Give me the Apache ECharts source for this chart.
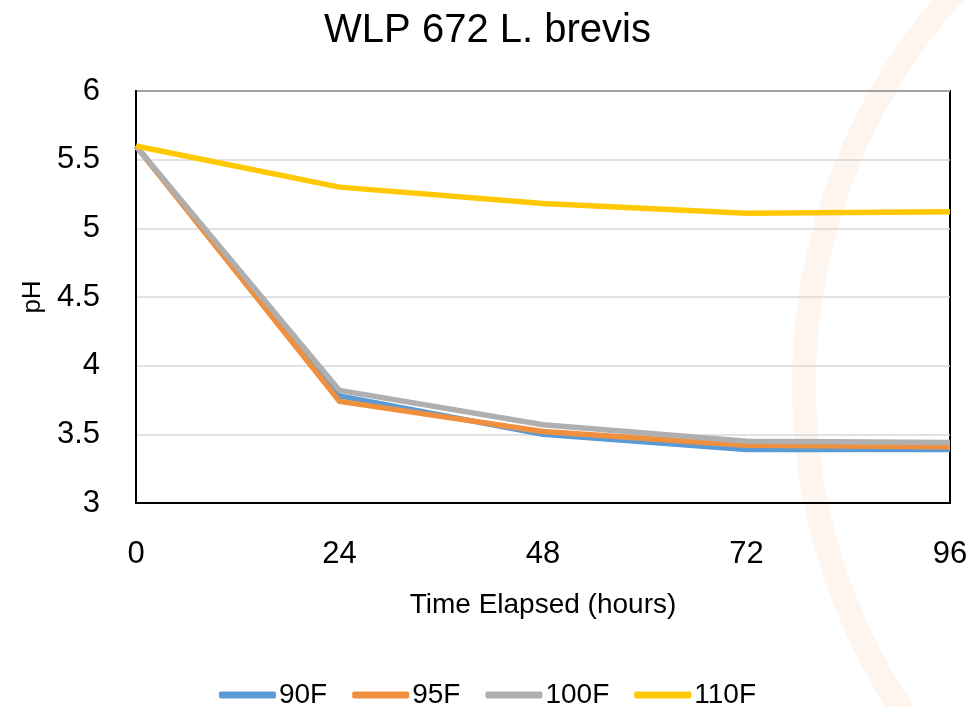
<!DOCTYPE html>
<html>
<head>
<meta charset="utf-8">
<script src="https://cdn.jsdelivr.net/npm/echarts@6/dist/echarts.min.js"></script>
<style>
  html, body { margin: 0; padding: 0; background: #fff; }
  #chart { width: 975px; height: 707px; }
</style>
</head>
<body>
<div id="chart"></div>
<script>
// hours since pitch
const hours = [0, 24, 48, 72, 96];
const ph90 = [5.60, 3.78, 3.50, 3.39, 3.39];
const ph95 = [5.60, 3.74, 3.52, 3.42, 3.41];
const ph100 = [5.60, 3.82, 3.57, 3.45, 3.44];
const ph110 = [5.60, 5.30, 5.18, 5.11, 5.12];
const seriesNames = ['90F', '95F', '100F', '110F'];
const seriesColors = ['#5B9BD5', '#F0903F', '#AFAFAF', '#FFC800'];

const font = 'Liberation Sans, Arial, sans-serif';
const pairs = arr => hours.map((h, i) => [h, arr[i]]);
const allData = [ph90, ph95, ph100, ph110];

let inst = echarts.init(document.getElementById('chart'));
let option = {
  backgroundColor: '#fff',
  animation: false,
  // faint watermark ring on the right
  graphic: [{
    type: 'circle',
    z: -10,
    silent: true,
    shape: { cx: 1392, cy: 385, r: 588 },
    style: { fill: 'none', stroke: 'rgba(243,140,80,0.09)', lineWidth: 24 }
  }],
  title: {
    text: 'WLP 672 L. brevis',
    left: 'center',
    top: 6,
    textStyle: { fontFamily: font, fontSize: 40, fontWeight: 'normal', color: '#000' }
  },
  grid: {
    left: 136, right: 25, top: 91, bottom: 204,
    show: true, borderColor: '#000', borderWidth: 2
  },
  legend: {
    top: 676,
    left: 'center',
    icon: 'roundRect',
    itemWidth: 57,
    itemHeight: 7,
    itemGap: 25,
    textStyle: { fontFamily: font, fontSize: 28, color: '#000', padding: [0, 0, 0, -2] },
    data: seriesNames
  },
  xAxis: {
    type: 'value',
    min: 0, max: 96, interval: 24,
    name: 'Time Elapsed (hours)',
    nameLocation: 'middle',
    nameGap: 88,
    nameTextStyle: { fontFamily: font, fontSize: 28, color: '#000' },
    axisLine: { show: true, lineStyle: { color: '#000', width: 2 } },
    axisTick: { show: false },
    splitLine: { show: false },
    axisLabel: { margin: 36, fontFamily: font, fontSize: 31, color: '#000' }
  },
  yAxis: {
    type: 'value',
    min: 3, max: 6, interval: 0.5,
    name: 'pH',
    nameLocation: 'middle',
    nameGap: 90,
    nameRotate: 90,
    nameTextStyle: { fontFamily: font, fontSize: 26, color: '#000' },
    axisLine: { show: true, lineStyle: { color: '#000', width: 2 } },
    axisTick: { show: false },
    splitLine: { lineStyle: { color: '#D9D9D9', width: 1.5 } },
    axisLabel: { margin: 36, fontFamily: font, fontSize: 31, color: '#000' }
  },
  series: seriesNames.map((name, i) => ({
    name: name,
    type: 'line',
    data: pairs(allData[i]),
    showSymbol: false,
    symbol: 'none',
    color: seriesColors[i],
    lineStyle: { width: 5.5, color: seriesColors[i], join: 'round' }
  }))
};
inst.setOption(option);
</script>
</body>
</html>
